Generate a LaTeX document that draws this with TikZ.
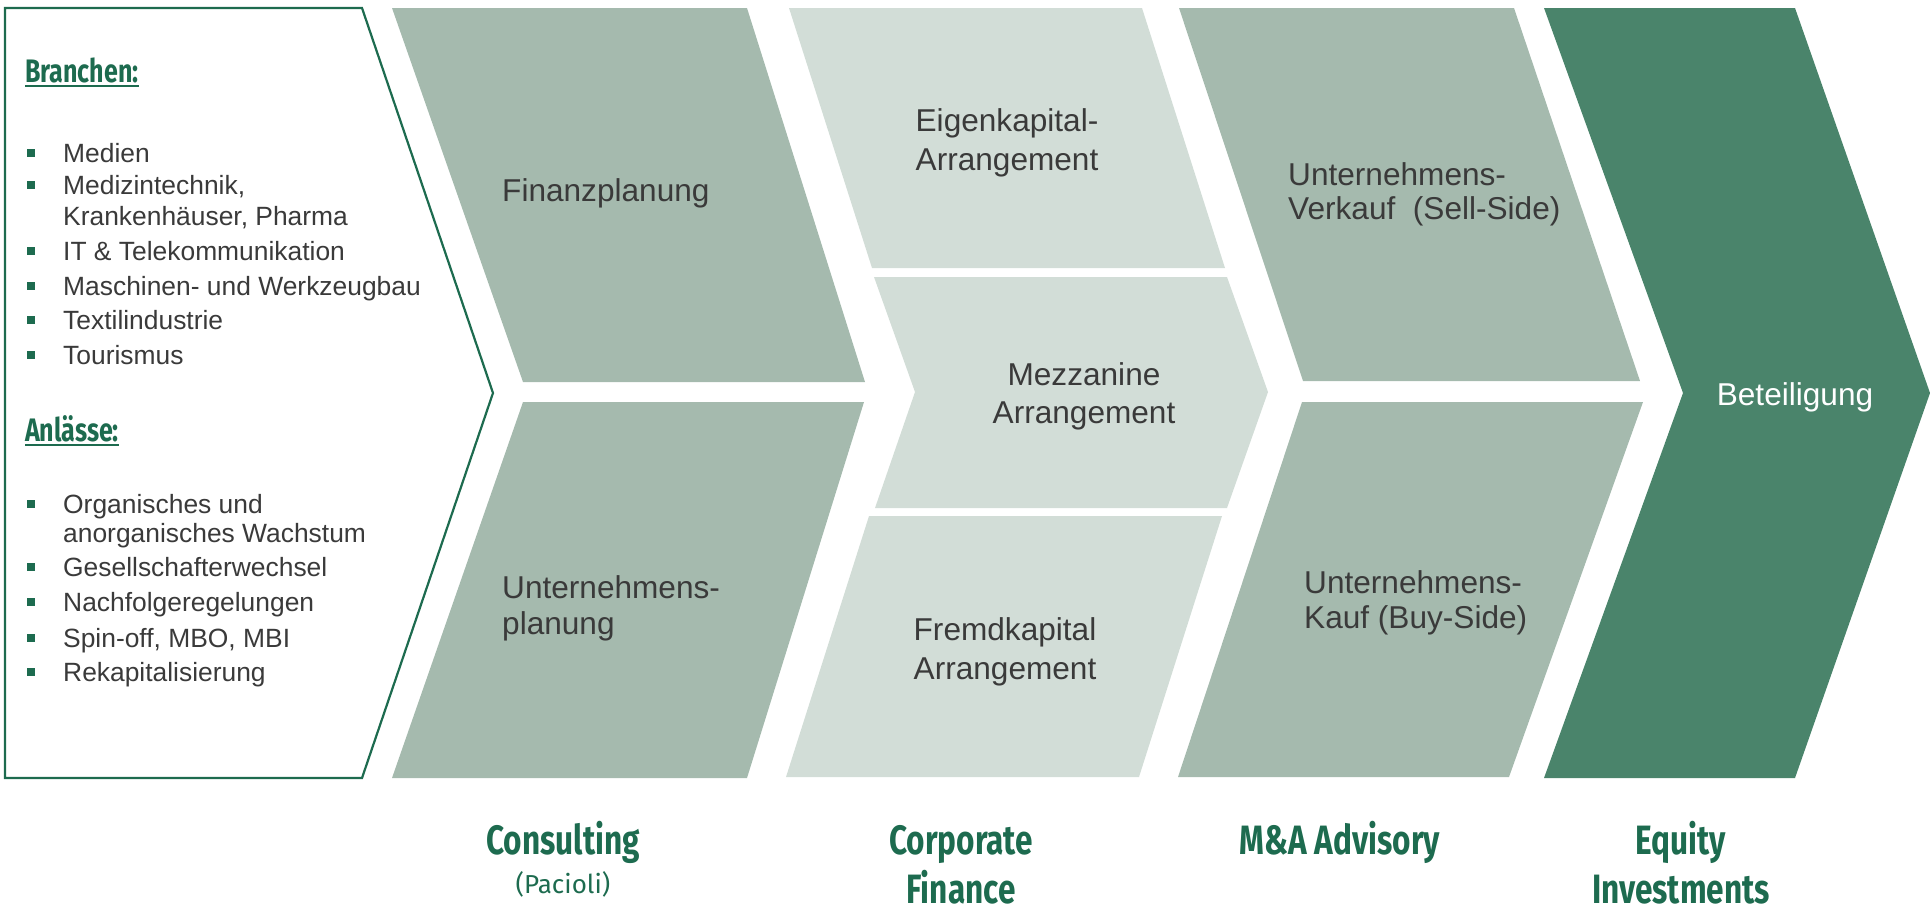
\documentclass[tikz,border=0pt]{standalone}
\usepackage{fontspec}
\setmainfont{Liberation Sans}
\newfontfamily\headfont[FakeStretch=0.77]{Fira Sans}
\newfontfamily\subfont{Fira Sans}
\definecolor{midg}{RGB}{165,186,174}
\definecolor{lightg}{RGB}{210,221,215}
\definecolor{darkg}{RGB}{74,132,107}
\definecolor{hgreen}{RGB}{29,107,79}
\definecolor{txtgray}{RGB}{58,58,58}
\newcommand\bulitem[3]{%
  \node[bul] (#1b) at (31,{#2-9}) {};
  \node[itm,anchor=base west] (#1) at (63,#2) {#3};}
\newcommand\contline[3]{\node[itm,anchor=base west] (#1) at (63,#2) {#3};}
\begin{document}
\begin{tikzpicture}[x=1pt,y=-1pt,
  itm/.style={inner sep=0,text=txtgray,font=\fontsize{26.4}{31}\selectfont},
  bul/.style={rectangle,fill=hgreen,minimum size=8pt,inner sep=0},
  lbl/.style={inner sep=0,text=txtgray,font=\fontsize{31.6}{36}\selectfont},
  head/.style={inner sep=0,text=hgreen,font=\headfont\bfseries\fontsize{32.5}{36}\selectfont},
  ulin/.style={draw=hgreen,line width=2.2pt},
  col/.style={inner sep=0,text=hgreen,font=\headfont\bfseries\fontsize{41}{45}\selectfont},
  sub/.style={inner sep=0,text=hgreen,font=\subfont\fontsize{26}{30}\selectfont}]
\useasboundingbox (0,0) rectangle (1930,914);
% left box
\draw[hgreen,line width=2.2pt,fill=white] (5,8) -- (362,8) -- (493,393) -- (362,778) -- (5,778) -- cycle;
% consulting
\fill[midg] (392,8) -- (747,8) -- (865,382) -- (523,382) -- cycle;
\fill[midg] (523,402) -- (864,402) -- (747,778) -- (392,778) -- cycle;
% corporate finance
\fill[lightg] (789,8) -- (1142,8) -- (1225,268) -- (872,268) -- cycle;
\fill[lightg] (874,277) -- (1227,277) -- (1268,392) -- (1227,508) -- (875,508) -- (915,392) -- cycle;
\fill[lightg] (869,516) -- (1222,516) -- (1139,777) -- (786,777) -- cycle;
% M&A
\fill[midg] (1179,8) -- (1514,8) -- (1640,381) -- (1303,381) -- cycle;
\fill[midg] (1302,402) -- (1643,402) -- (1509,777) -- (1178,777) -- cycle;
% equity
\fill[darkg] (1544,8) -- (1795,8) -- (1930,393) -- (1795,778) -- (1544,778) -- (1683,393) -- cycle;

% headings
\node[head,anchor=base west] (br) at (25,82) {Branchen:};
\draw[ulin] ([yshift=-4pt]br.base west) -- ([yshift=-4pt]br.base east);
\node[head,anchor=base west] (an) at (25,441) {Anlässe:};
\draw[ulin] ([yshift=-4pt]an.base west) -- ([yshift=-4pt]an.base east);

% lists
\bulitem{i1}{162}{Medien}
\bulitem{i2}{194}{Medizintechnik,}
\contline{i2c}{225}{Krankenhäuser, Pharma}
\bulitem{i3}{260}{IT \& Telekommunikation}
\bulitem{i4}{295}{Maschinen- und Werkzeugbau}
\bulitem{i5}{329}{Textilindustrie}
\bulitem{i6}{364}{Tourismus}

\bulitem{a1}{513}{Organisches und}
\contline{a1c}{542}{anorganisches Wachstum}
\bulitem{a2}{576}{Gesellschafterwechsel}
\bulitem{a3}{611}{Nachfolgeregelungen}
\bulitem{a4}{647}{Spin-off, MBO, MBI}
\bulitem{a5}{681}{Rekapitalisierung}

% box labels
\node[lbl,anchor=base west] (fin) at (502,201) {Finanzplanung};
\node[lbl,anchor=base west] (up1) at (502,598) {Unternehmens-};
\node[lbl,anchor=base west] (up2) at (502,634) {planung};
\node[lbl,anchor=base] (ek1) at (1007,131) {Eigenkapital-};
\node[lbl,anchor=base] (ek2) at (1007,170) {Arrangement};
\node[lbl,anchor=base] (mz1) at (1084,385) {Mezzanine};
\node[lbl,anchor=base] (mz2) at (1084,423) {Arrangement};
\node[lbl,anchor=base] (fk1) at (1005,640) {Fremdkapital};
\node[lbl,anchor=base] (fk2) at (1005,679) {Arrangement};
\node[lbl,anchor=base west] (sv1) at (1288,185) {Unternehmens-};
\node[lbl,anchor=base west] (sv2) at (1288,219) {Verkauf\ \ (Sell-Side)};
\node[lbl,anchor=base west] (bk1) at (1304,593) {Unternehmens-};
\node[lbl,anchor=base west] (bk2) at (1304,628) {Kauf (Buy-Side)};
\node[lbl,anchor=base,text=white] (bet) at (1795,405) {Beteiligung};

% column labels
\node[col,anchor=base] (c1) at (563,854) {Consulting};
\node[sub,anchor=base] (c1s) at (563,893) {(Pacioli)};
\node[col,anchor=base] (c2) at (961,854) {Corporate};
\node[col,anchor=base] (c2b) at (961,903) {Finance};
\node[col,anchor=base] (c3) at (1340,854) {M\&A Advisory};
\node[col,anchor=base] (c4) at (1681,854) {Equity};
\node[col,anchor=base] (c4b) at (1681,903) {Investments};
\end{tikzpicture}
\end{document}
